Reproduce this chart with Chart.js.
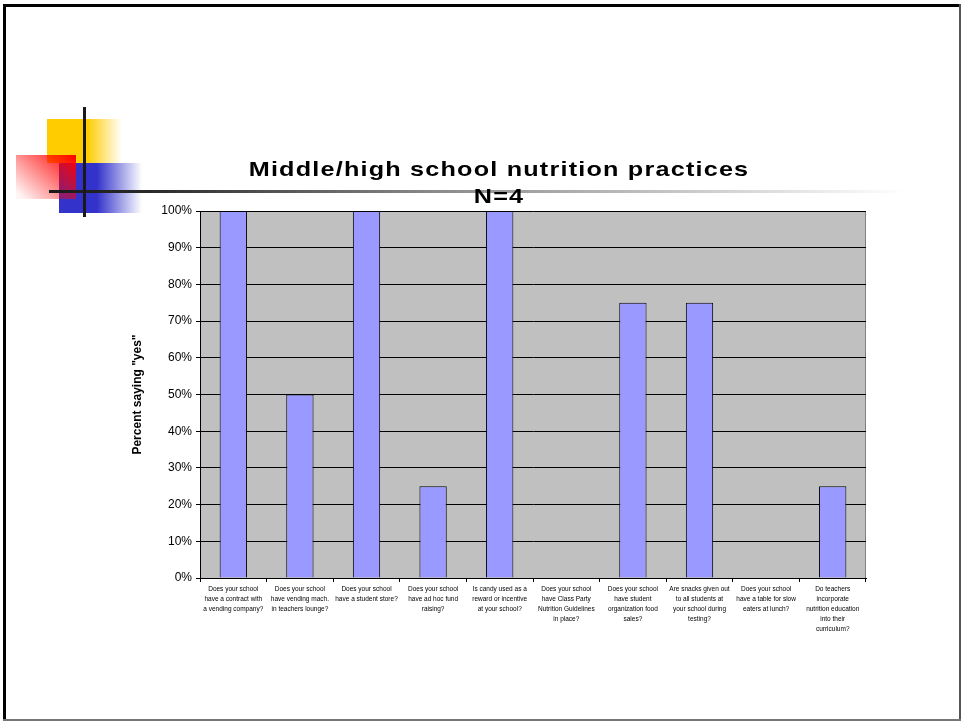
<!DOCTYPE html>
<html>
<head>
<meta charset="utf-8">
<script src="https://cdn.jsdelivr.net/npm/chart.js@4"></script>
<style>
  html, body { margin: 0; padding: 0; background: #fff; overflow: hidden; }
  canvas { display: block; }
</style>
</head>
<body>
<canvas id="myChart" width="961" height="721"></canvas>
<script>
const questions = [
    ['Does your school', 'have a contract with', 'a vending company?'],
    ['Does your school', 'have vending mach.', 'in teachers lounge?'],
    ['Does your school', 'have a student store?'],
    ['Does your school', 'have ad hoc fund', 'raising?'],
    ['Is candy used as a', 'reward or incentive', 'at your school?'],
    ['Does your school', 'have Class Party', 'Nutrition Guidelines', 'in place?'],
    ['Does your school', 'have student', 'organization food', 'sales?'],
    ['Are snacks given out', 'to all students at', 'your school during', 'testing?'],
    ['Does your school', 'have a table for slow', 'eaters at lunch?'],
    ['Do teachers', 'incorporate', 'nutrition education', 'into their', 'curriculum?']
];
const percentYes = [100, 50, 100, 25, 100, 0, 75, 75, 0, 25];
const titleLines = ['Middle/high school nutrition practices', 'N=4'];
const yAxisTitle = 'Percent saying "yes"';

// slide decoration, grey plot background and the title
const slide = {
    id: 'slide',
    beforeDraw(chart) {
        const c = chart.ctx;
        const a = chart.chartArea;
        c.save();
        c.fillStyle = '#fff';
        c.fillRect(0, 0, chart.width, chart.height);

        // frame
        c.fillStyle = '#000';
        c.fillRect(3, 4, 3, 717);
        c.fillRect(3, 4, 958, 3);
        c.fillStyle = '#555';
        c.fillRect(959, 4, 2, 717);
        c.fillStyle = '#777';
        c.fillRect(3, 719, 958, 2);

        // yellow square
        let g = c.createLinearGradient(87, 0, 122, 0);
        g.addColorStop(0, '#ffcc00');
        g.addColorStop(1, 'rgba(255,204,0,0)');
        c.fillStyle = g;
        c.fillRect(47, 119, 76, 44);
        // blue square
        g = c.createLinearGradient(97, 0, 142, 0);
        g.addColorStop(0, '#3333cc');
        g.addColorStop(1, 'rgba(51,51,204,0)');
        c.fillStyle = g;
        c.fillRect(59, 163, 84, 50);
        // red square
        g = c.createLinearGradient(76, 155, 30, 205);
        g.addColorStop(0, '#ff0000');
        g.addColorStop(1, 'rgba(255,0,0,0.04)');
        c.fillStyle = g;
        c.fillRect(16, 155, 60, 44);
        // lines
        g = c.createLinearGradient(49, 0, 905, 0);
        g.addColorStop(0, '#1a1a1a');
        g.addColorStop(0.12, '#2a2a2a');
        g.addColorStop(0.45, '#8a8a8a');
        g.addColorStop(1, '#ffffff');
        c.fillStyle = g;
        c.fillRect(49, 190, 856, 3);
        c.fillStyle = '#1a1a1a';
        c.fillRect(83, 107, 3, 110);

        // plot background
        c.fillStyle = '#c0c0c0';
        c.fillRect(a.left, a.top, a.right - a.left, a.bottom - a.top);
        c.strokeStyle = '#808080';
        c.lineWidth = 1;
        c.strokeRect(a.left + 0.5, a.top + 0.5, a.right - a.left - 1, a.bottom - a.top);
        c.restore();
    },
    afterDraw(chart) {
        const c = chart.ctx;
        c.save();
        c.fillStyle = '#000';
        c.font = 'bold 21px "Liberation Sans", Arial, sans-serif';
        c.letterSpacing = '1px';
        c.textAlign = 'center';
        c.textBaseline = 'alphabetic';
        c.translate(499, 0);
        c.scale(1.2, 1);
        c.fillText(titleLines[0], 0, 176);
        c.fillText(titleLines[1], 0, 203);
        c.restore();
    }
};

const ctx = document.getElementById('myChart').getContext('2d');
const myChart = new Chart(ctx, {
    type: 'bar',
    data: {
        labels: questions,
        datasets: [{
            data: percentYes,
            backgroundColor: '#9999ff',
            borderColor: '#000',
            borderWidth: 1,
            barPercentage: 0.41,
            categoryPercentage: 1
        }]
    },
    options: {
        responsive: false,
        animation: false,
        devicePixelRatio: 1,
        layout: {
            padding: { left: 120, right: 95, top: 211, bottom: 20 }
        },
        plugins: {
            legend: { display: false },
            title: { display: false },
            tooltip: { enabled: false }
        },
        scales: {
            x: {
                afterFit: (s) => { s.height = 721 - 578 - 20; },
                grid: {
                    offset: true,
                    drawOnChartArea: false,
                    color: '#000',
                    tickLength: 4
                },
                border: { color: '#000' },
                ticks: {
                    autoSkip: false,
                    maxRotation: 0,
                    minRotation: 0,
                    padding: 2,
                    color: '#000',
                    font: { family: '"Liberation Sans", Arial, sans-serif', size: 6.5, lineHeight: 1.55 }
                }
            },
            y: {
                min: 0,
                max: 100,
                afterFit: (s) => { s.width = 80; },
                grid: {
                    color: '#000',
                    tickLength: 4
                },
                border: { color: '#000' },
                ticks: {
                    stepSize: 10,
                    padding: 4,
                    color: '#000',
                    font: { family: '"Liberation Sans", Arial, sans-serif', size: 12 },
                    callback: (v) => v + '%'
                },
                title: {
                    display: true,
                    text: yAxisTitle,
                    color: '#000',
                    padding: { top: 10, bottom: 0 },
                    font: { family: '"Liberation Sans", Arial, sans-serif', size: 12, weight: 'bold' }
                }
            }
        }
    },
    plugins: [slide]
});
</script>
</body>
</html>
